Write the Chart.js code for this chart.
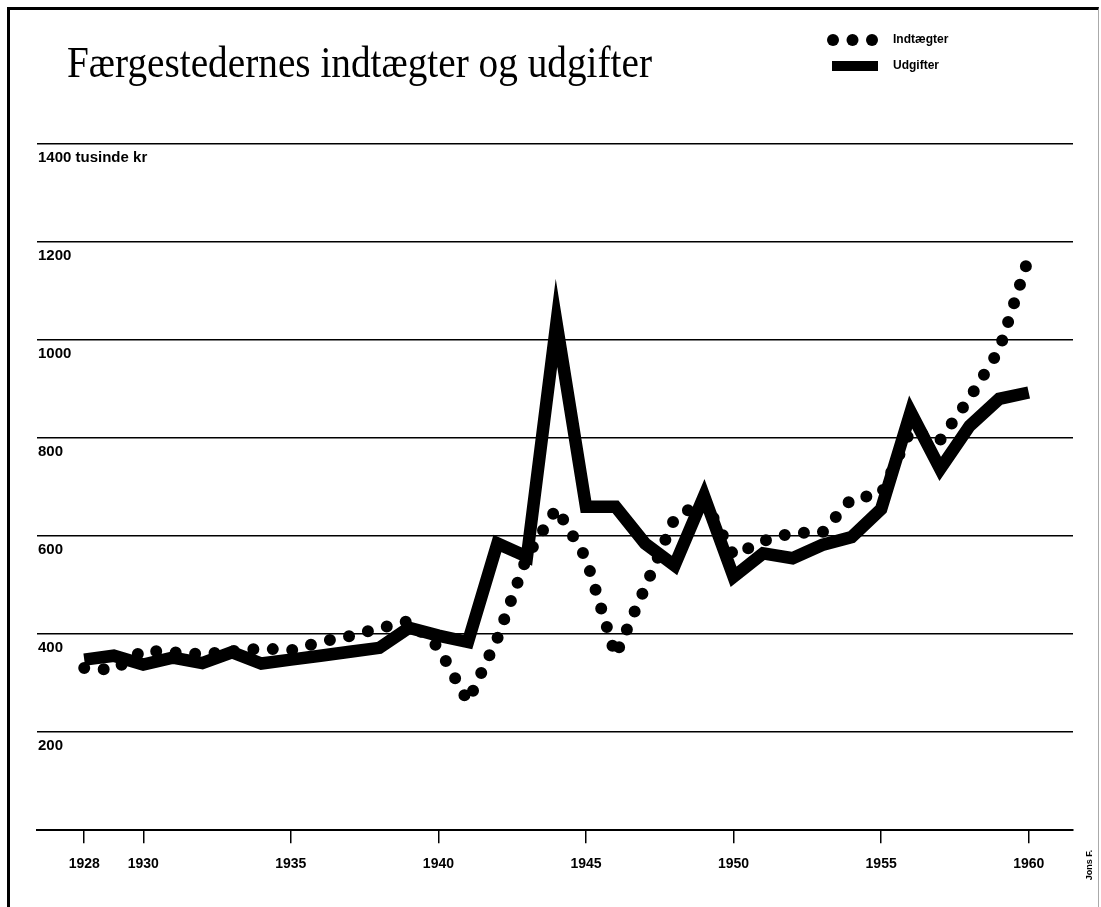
<!DOCTYPE html>
<html>
<head>
<meta charset="utf-8">
<script src="https://cdn.jsdelivr.net/npm/chart.js@4.4.0/dist/chart.umd.min.js"></script>
<style>
html, body { margin: 0; padding: 0; background: #fff; }
#wrap { position: relative; width: 1101px; height: 907px; overflow: hidden; }
#frame { position: absolute; left: 7px; top: 7px; width: 1088px; height: 940px;
         border-left: 3px solid #000; border-top: 3px solid #000; border-right: 1px solid #aaa; }
canvas { position: absolute; left: 0; top: 0; }
</style>
</head>
<body>
<div id="wrap">
  <div id="frame"></div>
  <canvas id="chart" width="1101" height="907"></canvas>
</div>
<script>
const titleText = "Færgestedernes indtægter og udgifter";
const seriesNames = ["Indtægter", "Udgifter"];
const yUnit = "tusinde kr";
const signature = "Jons F.";

const years = [1928, 1929, 1930, 1931, 1932, 1933, 1934, 1935, 1936, 1937, 1938,
               1939, 1940, 1941, 1942, 1943, 1944, 1945, 1946, 1947, 1948, 1949,
               1950, 1951, 1952, 1953, 1954, 1955, 1956, 1957, 1958, 1959, 1960];

// tusinde kr
const indtaegter = [331, 327, 367, 363, 359, 365, 371, 367, 384, 396, 412,
                    427, 373, 262, 392, 558, 657, 555, 356, 495, 636, 673,
                    561, 590, 607, 607, 676, 686, 816, 796, 882, 980, 1169];

const udgifter = [348, 356, 338, 352, 341, 363, 340, 348, 356, 364, 372,
                  413, 397, 384, 585, 558, 1035, 660, 660, 585, 540, 682,
                  517, 565, 555, 582, 598, 655, 853, 737, 825, 880, 893];

const xTickYears = [1928, 1930, 1935, 1940, 1945, 1950, 1955, 1960];
const yTickValues = [0, 200, 400, 600, 800, 1000, 1200, 1400];

const dotWidth = 12;
const lineWidth = 12.5;

// title, legend and signature
const decor = {
    id: "decor",
    afterDraw(chart) {
        const ctx = chart.ctx;
        ctx.save();
        ctx.fillStyle = "#000";

        ctx.font = '44px "Liberation Serif"';
        ctx.textBaseline = "alphabetic";
        const w = ctx.measureText(titleText).width;
        ctx.save();
        ctx.translate(67, 77);
        ctx.scale(585 / w, 1);
        ctx.fillText(titleText, 0, 0);
        ctx.restore();

        // legend
        [833, 852.5, 872].forEach(x => {
            ctx.beginPath();
            ctx.arc(x, 40, dotWidth / 2, 0, Math.PI * 2);
            ctx.fill();
        });
        ctx.fillRect(832, 61, 46, 10);
        ctx.font = 'bold 12px "Liberation Sans"';
        ctx.textBaseline = "middle";
        ctx.fillText(seriesNames[0], 893, 40);
        ctx.fillText(seriesNames[1], 893, 66);

        ctx.font = 'bold 9px "Liberation Sans"';
        ctx.translate(1090, 865);
        ctx.rotate(-Math.PI / 2);
        ctx.textAlign = "center";
        ctx.fillText(signature, 0, 0);
        ctx.restore();
    }
};

new Chart(document.getElementById("chart"), {
    type: "line",
    data: {
        datasets: [{
            label: seriesNames[0],
            data: years.map((y, i) => ({ x: y, y: indtaegter[i] })),
            borderColor: "#000",
            borderWidth: dotWidth,
            borderDash: [0, 19.5],
            borderCapStyle: "round",
            pointRadius: 0,
            tension: 0,
            fill: false
        }, {
            label: seriesNames[1],
            data: years.map((y, i) => ({ x: y, y: udgifter[i] })),
            borderColor: "#000",
            borderWidth: lineWidth,
            borderJoinStyle: "miter",
            borderCapStyle: "butt",
            pointRadius: 0,
            tension: 0,
            fill: false
        }]
    },
    options: {
        responsive: false,
        animation: false,
        layout: { padding: { left: 35, right: 28, top: 144, bottom: 21 } },
        plugins: {
            legend: { display: false },
            tooltip: { enabled: false }
        },
        scales: {
            x: {
                type: "linear",
                min: 1926.4,
                max: 1961.5,
                afterBuildTicks: axis => { axis.ticks = xTickYears.map(v => ({ value: v })); },
                grid: { drawOnChartArea: false, drawTicks: true, tickLength: 13, color: "#000", lineWidth: 1.5 },
                border: { display: true, color: "#000", width: 2 },
                ticks: {
                    color: "#000",
                    padding: 13,
                    maxRotation: 0,
                    font: { family: "Liberation Sans", size: 14, weight: "bold" },
                    callback: v => String(v)
                }
            },
            y: {
                min: 0,
                max: 1400,
                afterBuildTicks: axis => { axis.ticks = yTickValues.map(v => ({ value: v })); },
                grid: { drawTicks: false, color: "#000", lineWidth: 1.5 },
                border: { display: false },
                ticks: {
                    mirror: true,
                    padding: 1,
                    labelOffset: 14,
                    color: "#000",
                    font: { family: "Liberation Sans", size: 15, weight: "bold" },
                    callback: v => v === 0 ? "" : (v === 1400 ? v + " " + yUnit : String(v))
                }
            }
        }
    },
    plugins: [decor]
});
</script>
</body>
</html>
